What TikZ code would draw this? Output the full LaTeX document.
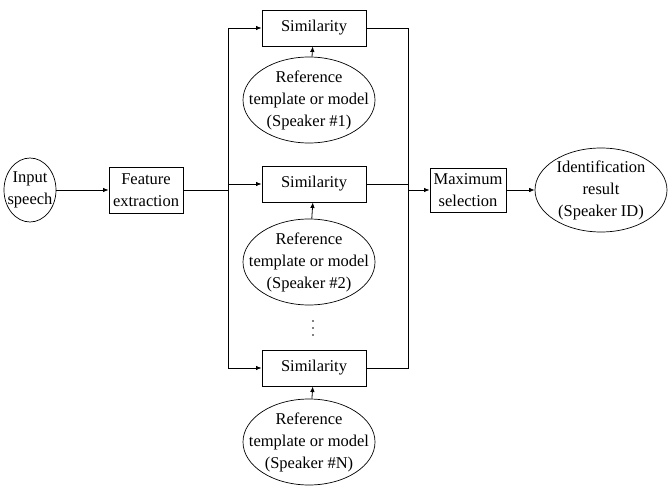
\documentclass[tikz,border=0pt]{standalone}
\usepackage{fontspec}
\setmainfont{Liberation Serif}
\usetikzlibrary{shapes.geometric,arrows.meta}
\begin{document}
\begin{tikzpicture}[x=1pt,y=-1pt,
  every node/.style={font=\fontsize{16.5}{22}\selectfont, align=center, inner sep=0pt},
  blk/.style={draw, line width=0.9pt},
  ell/.style={draw, ellipse, line width=0.7pt, inner xsep=-24pt, inner ysep=-16pt},
  arr/.style={-{Latex[length=5.5pt,width=4.5pt]}, line width=0.8pt},
  ln/.style={line width=0.8pt},
  dot/.style={fill, circle, inner sep=0pt, minimum size=1.6pt}]
\useasboundingbox (0,0) rectangle (668,486);

\node[ell, minimum width=52, minimum height=64] (in) at (30,190) {Input\\speech};
\node[blk, minimum width=74, minimum height=46] (fe) at (146,190) {Feature\\extraction};

\node[blk, minimum width=104, minimum height=36] (s1) at (314,28) {Similarity};
\node[ell, minimum width=132, minimum height=86] (r1) at (309,100) {Reference\\template or model\\(Speaker \#1)};
\node[blk, minimum width=104, minimum height=36] (s2) at (314,184) {Similarity};
\node[ell, minimum width=132, minimum height=86] (r2) at (309,262) {Reference\\template or model\\(Speaker \#2)};
\node[dot] (d1) at (313,321) {};
\node[dot] (d2) at (313,328) {};
\node[dot] (d3) at (313,335) {};
\node[blk, minimum width=104, minimum height=36] (s3) at (314,368) {Similarity};
\node[ell, minimum width=132, minimum height=86] (rN) at (309,442) {Reference\\template or model\\(Speaker \#N)};

\node[blk, minimum width=76, minimum height=44] (mx) at (468,190) {Maximum\\selection};
\node[ell, minimum width=132, minimum height=84] (id) at (601,190) {Identification\\result\\(Speaker ID)};

\coordinate (bf) at (228,190);
\coordinate (bt) at (228,28);
\coordinate (bm) at (228,184);
\coordinate (bb) at (228,368);
\coordinate (rt) at (408,28);
\coordinate (rm) at (408,190);
\coordinate (rb) at (408,368);

\draw[arr] (in) -- (fe);
\draw[ln] (fe.east) -- (bf);
\draw[ln] (bt) -- (bb);
\draw[arr] (bt) -- (s1.west);
\draw[arr] (bm) -- (s2.west);
\draw[arr] (bb) -- (s3.west);
\draw[ln] (s1.east) -- (rt) -- (rb) -- (s3.east);
\draw[ln] (s2.east) -- (s2.east -| rt);
\draw[arr] (rm) -- (mx.west);
\draw[arr] (mx) -- (id);
\draw[arr] (r1) -- (s1);
\draw[arr] (r2) -- (s2);
\draw[arr] (rN) -- (s3);
\end{tikzpicture}
\end{document}
